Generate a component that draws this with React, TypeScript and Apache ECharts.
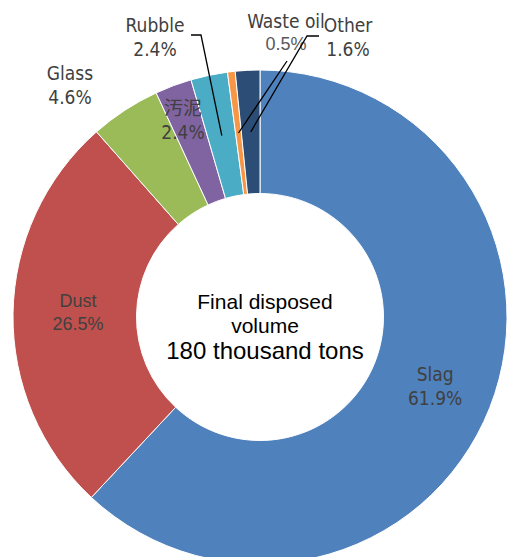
import React, { useEffect, useRef } from "react";
import * as echarts from "echarts";

// Breakdown of final disposed volume by waste type (%)
const categories = ["Slag", "Dust", "Glass", "汚泥", "Rubble", "Waste oil", "Other"];
const shares = [61.9, 26.5, 4.6, 2.4, 2.4, 0.5, 1.6];
const sliceColors = ["#4F81BD", "#C0504D", "#9BBB59", "#8064A2", "#4BACC6", "#F79646", "#2C4D75"];
const centerLines = ["Final disposed", "volume", "180 thousand tons"];

// Ring geometry (px)
const CX = 260;
const CY = 317;
const R_IN = 123.5;
const R_OUT = 247;

// Labels that sit away from the default spot: anchor point and leader-line elbow
const labelPlacement: Record<string, { at: [number, number]; elbow?: [number, number][] }> = {
  Dust: { at: [78, 312] },
  Glass: { at: [70, 85] },
  "汚泥": { at: [183, 120] },
  Rubble: { at: [155, 37], elbow: [[201, 35], [191, 35]] },
  "Waste oil": { at: [286, 32], elbow: [[287, 61]] },
  Other: { at: [348, 37], elbow: [[307, 36], [319, 36]] },
};
const insideLabels = ["Slag", "Dust", "汚泥"];

const NARROW = "'Liberation Sans Narrow', 'Arial Narrow', 'DejaVu Sans Condensed', 'Noto Sans CJK JP', sans-serif";
const ARIAL = "'Liberation Sans', Arial, sans-serif";

// Mid-radius point of a slice, where its leader line starts
function sliceMidPoint(i: number): [number, number] {
  const total = shares.reduce((a, b) => a + b, 0);
  const before = shares.slice(0, i).reduce((a, b) => a + b, 0);
  const theta = ((before + shares[i] / 2) / total) * Math.PI * 2;
  const rm = (R_IN + R_OUT) / 2;
  return [CX + rm * Math.sin(theta), CY - rm * Math.cos(theta)];
}

export default function App() {
  const ref = useRef<HTMLDivElement>(null);

  useEffect(() => {
    if (!ref.current) return;
    const chart = echarts.init(ref.current, null, { renderer: "svg" });

    const data = categories.map((name, i) => ({
      name,
      value: shares[i],
      itemStyle: { color: sliceColors[i] },
      label: { position: insideLabels.includes(name) ? "inside" : "outside" },
    }));

    const leaderLines = categories
      .map((name, i) => ({ name, i }))
      .filter(({ name }) => labelPlacement[name]?.elbow)
      .map(({ name, i }) => ({
        type: "polyline",
        z: 100,
        silent: true,
        shape: { points: [sliceMidPoint(i), ...(labelPlacement[name].elbow as [number, number][])] },
        style: { stroke: "#000000", lineWidth: 1.3, fill: null },
      }));

    const centerText = centerLines.map((t, i) => ({
      type: "text",
      x: 265,
      y: 301 + i * 24.5,
      z: 100,
      silent: true,
      style: {
        text: t,
        fontFamily: ARIAL,
        fontSize: i === 2 ? 24 : 21,
        fill: "#000000",
        textAlign: "center",
        textVerticalAlign: "middle",
      },
    }));

    chart.setOption({
      animation: false,
      backgroundColor: "#ffffff",
      graphic: [...leaderLines, ...centerText],
      series: [
        {
          type: "pie",
          center: [CX, CY],
          radius: [R_IN, R_OUT],
          startAngle: 90,
          clockwise: true,
          avoidLabelOverlap: false,
          silent: true,
          itemStyle: { borderColor: "#ffffff", borderWidth: 1 },
          label: {
            show: true,
            formatter: (p: any) => {
              const pct = `${Number(p.value).toFixed(1)}%`;
              if (p.name === "Dust") return `{ar|${p.name}}\n{ar|${pct}}`;
              if (p.name === "Waste oil") return `{nm|${p.name}}\n{lt|${pct}}`;
              return `{nm|${p.name}}\n{nm|${pct}}`;
            },
            rich: {
              nm: { fontFamily: NARROW, fontSize: 19, color: "#404040", lineHeight: 24, align: "center" },
              ar: { fontFamily: ARIAL, fontSize: 18, color: "#404040", lineHeight: 23, align: "center" },
              lt: { fontFamily: ARIAL, fontSize: 18, color: "#595959", lineHeight: 23, align: "center" },
            },
          },
          labelLine: { show: false },
          labelLayout: (params: any) => {
            const place = labelPlacement[categories[params.dataIndex]];
            if (!place) return {};
            return { x: place.at[0], y: place.at[1], align: "center", verticalAlign: "middle" };
          },
          data,
        },
      ],
    });

    return () => chart.dispose();
  }, []);

  return (
    <div
      ref={ref}
      style={{ position: "fixed", left: 0, top: 0, width: 512, height: 557 }}
    />
  );
}
